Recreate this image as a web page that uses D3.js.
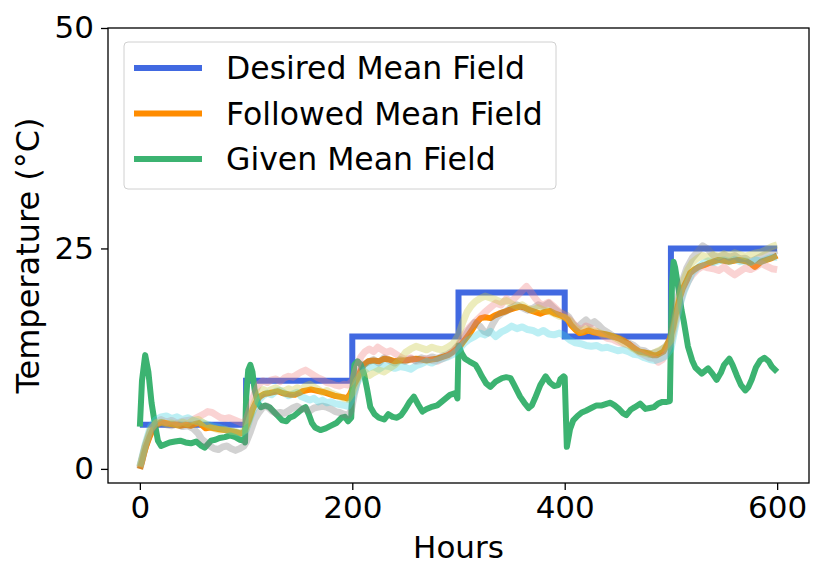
<!DOCTYPE html>
<html>
<head>
<meta charset="utf-8">
<script src="https://cdn.jsdelivr.net/npm/d3@7"></script>
<style>
    body { margin: 0; background: #fff; }
    svg { display: block; font-family: "DejaVu Sans", sans-serif; }
</style>
</head>
<body>
<div class="chart"></div>
<script>

const xTicks = [0, 200, 400, 600];
const yTicks = [0, 25, 50];

const seriesNames = ["Desired Mean Field", "Followed Mean Field", "Given Mean Field"];

// setpoint changes every 100 hours
const desiredHours = [0, 100, 200, 300, 400, 500, 600];
const desiredValues = [5, 10, 15, 20, 15, 25, 25];

const followed = [[0,0],[2,0.8],[4,1.8],[6,2.6],[9,3.6],[12,4.4],[16,5.0],[20,5.3],[24,5.2],[28,5.1],[33,5.0],[38,4.9],[43,5.0],[48,4.9],[52,5.1],[56,5.2],[59,4.9],[62,4.6],[66,4.7],[70,4.6],[75,4.5],[80,4.4],[85,4.3],[90,4.2],[95,4.0],[98,4.2],[100,4.7],[103,5.6],[106,6.7],[109,7.5],[113,8.2],[117,8.5],[122,8.6],[126,8.7],[130,8.8],[134,8.6],[138,8.5],[142,8.4],[146,8.4],[150,8.6],[153,8.8],[157,8.9],[161,9.0],[165,8.9],[169,8.8],[173,8.7],[178,8.5],[183,8.3],[188,8.2],[192,8.1],[195,8.0],[198,8.5],[201,9.4],[205,10.3],[208,11.2],[211,11.8],[215,12.2],[220,12.3],[225,12.2],[230,12.5],[235,12.4],[240,12.2],[245,12.3],[250,12.3],[255,12.4],[260,12.5],[265,12.4],[270,12.3],[275,12.4],[280,12.5],[285,12.7],[290,12.9],[294,13.2],[298,13.6],[302,14.0],[305,14.5],[309,15.1],[313,15.8],[317,16.6],[321,17.1],[325,17.2],[330,17.1],[334,17.4],[338,17.6],[343,17.8],[347,18.0],[352,18.2],[358,18.4],[362,18.3],[367,18.0],[372,17.8],[377,17.6],[381,17.8],[386,17.9],[391,17.6],[396,17.4],[400,17.2],[403,16.9],[406,16.3],[410,15.8],[414,15.4],[418,15.5],[422,15.7],[427,15.5],[432,15.4],[437,15.3],[441,15.2],[446,15.0],[451,14.8],[456,14.5],[460,14.2],[465,13.7],[470,13.3],[475,13.2],[479,13.1],[483,12.9],[487,12.9],[490,13.1],[493,13.3],[496,14.0],[499,14.8],[502,16.0],[505,17.8],[508,19.3],[511,20.4],[515,21.4],[518,22.2],[522,22.6],[526,22.9],[531,23.1],[535,23.3],[540,23.5],[545,23.7],[550,23.6],[554,23.5],[559,23.6],[563,23.7],[568,23.6],[572,23.5],[576,23.2],[579,22.9],[582,23.2],[585,23.5],[590,23.7],[595,23.9],[600,24.2]];

const given = [[0,4.8],[2,10],[5,12.9],[8,11],[11,7.5],[14,5.2],[17,3.2],[20,2.6],[24,2.8],[28,3.0],[33,3.1],[38,3.2],[43,3.0],[48,2.9],[53,3.1],[58,2.6],[61,2.4],[64,2.8],[67,3.2],[71,3.3],[75,3.5],[80,3.6],[85,3.8],[90,3.6],[94,3.3],[98,3.2],[99,3.0],[100,8],[102,11.2],[104,11.8],[106,11],[108,9],[111,7.5],[114,7.0],[118,7.2],[122,7.0],[126,6.5],[130,6.0],[134,5.5],[138,5.4],[141,5.8],[145,6.0],[149,6.4],[153,6.8],[156,7.0],[159,6.2],[162,5.2],[165,4.7],[170,4.4],[175,4.6],[180,4.9],[185,5.2],[190,5.8],[193,5.9],[196,5.4],[199,5.8],[200,9],[202,11.8],[205,12.2],[208,11.8],[211,10.8],[214,9.0],[217,7.0],[221,6.2],[225,5.8],[230,5.6],[234,6.2],[238,5.9],[242,5.8],[246,6.1],[250,6.8],[254,7.6],[258,8.2],[262,7.3],[266,6.5],[270,6.8],[274,7.0],[280,7.2],[286,7.8],[292,8.4],[297,8.6],[299,8.0],[300,14],[303,13.1],[306,12.5],[310,12.2],[316,11.8],[319,11.2],[322,10.5],[326,9.7],[330,9.3],[335,9.9],[341,10.3],[345,10.4],[349,10.3],[352,9.6],[355,8.9],[358,8.2],[362,7.5],[366,6.9],[369,7.2],[372,8.0],[377,9.5],[382,10.5],[386,9.8],[390,9.4],[394,9.5],[396,10.2],[399,10.5],[400,10.4],[402,2.5],[405,4.5],[408,5.5],[412,6.0],[416,6.4],[420,6.6],[425,6.9],[430,7.2],[435,7.2],[440,7.4],[443,7.5],[447,7.2],[451,6.8],[455,6.3],[458,6.1],[462,6.7],[466,7.0],[471,7.4],[476,6.8],[480,6.9],[484,7.0],[488,7.4],[492,7.6],[496,7.6],[499,7.7],[500,15],[501,21],[502.5,23.5],[504,22.8],[507,20.5],[510,18],[512,16.8],[516,13.9],[520,12.3],[523,11.5],[529,10.8],[535,11.4],[539,10.8],[543,10.1],[547,10.9],[550,11.8],[555,12.5],[558,11.8],[562,10.6],[566,9.5],[570,8.9],[573,9.3],[576,10.1],[580,11.5],[584,12.3],[588,12.6],[592,12.2],[595,11.6],[600,11.0]];

// individual zones, drawn faint
const zoneGray = [[0,0],[5,2.5],[10,4.3],[15,5],[20,5.2],[25,5],[30,4.9],[35,5.1],[40,4.8],[45,4.9],[50,4.6],[55,4.0],[58,3.4],[62,3.0],[66,2.6],[70,2.3],[74,2.2],[78,2.5],[82,2.6],[86,2.3],[90,2.1],[94,2.3],[98,2.6],[100,3.0],[104,4.2],[108,5.6],[112,6.4],[116,7.0],[120,7.1],[124,6.6],[128,6.3],[132,6.4],[136,6.3],[140,6.6],[144,6.9],[148,7.1],[152,6.8],[156,6.8],[160,6.6],[164,6.9],[168,7.0],[172,7.1],[176,7.0],[180,6.8],[184,6.5],[188,6.4],[192,6.2],[196,6.1],[199,6.6],[202,8.5],[206,10.6],[210,11.8],[215,12.1],[220,12.4],[225,12.0],[230,12.6],[235,12.3],[240,12.0],[245,12.4],[250,12.2],[255,12.5],[260,12.3],[265,12.6],[270,12.4],[275,12.7],[280,12.5],[285,12.8],[290,13.0],[295,13.4],[300,14.0],[305,14.8],[310,15.8],[315,16.6],[320,16.2],[324,15.6],[328,15.4],[332,16.4],[336,17.2],[340,17.6],[345,17.9],[350,18.3],[355,18.6],[360,18.3],[365,18.0],[370,18.2],[375,18.6],[380,18.4],[385,18.8],[390,18.2],[395,17.7],[400,17.6],[404,17.2],[408,16.4],[412,16.0],[416,16.5],[420,16.9],[424,16.4],[428,16.7],[432,16.3],[436,15.8],[440,15.5],[445,15.1],[450,14.9],[455,14.6],[460,14.3],[465,14.0],[470,13.5],[475,13.4],[480,13.0],[485,13.2],[490,13.4],[495,13.9],[499,14.5],[502,16.5],[506,19.2],[510,21.0],[515,22.8],[520,23.9],[525,24.6],[530,25.3],[535,24.9],[540,24.2],[545,24.0],[550,24.3],[555,24.0],[560,24.2],[565,23.8],[570,23.9],[575,23.5],[580,23.8],[585,24.1],[590,24.4],[595,24.6],[600,24.8]];

const zonePink = [[0,0.2],[5,2.6],[10,4.4],[15,5.2],[20,5.6],[25,5.3],[30,5.5],[35,5.2],[40,5.4],[45,5.5],[50,5.6],[55,5.9],[60,6.2],[64,6.5],[68,6.4],[72,6.1],[76,5.8],[80,5.7],[84,5.8],[88,5.6],[92,5.4],[96,5.2],[100,5.5],[104,7.0],[108,8.6],[112,9.6],[116,10.0],[120,9.8],[124,10.1],[128,10.2],[132,9.9],[136,10.3],[140,10.5],[144,10.4],[148,10.7],[152,11.0],[156,11.2],[160,10.9],[164,10.6],[168,10.3],[172,10.1],[176,9.8],[180,9.7],[184,9.5],[188,9.4],[192,9.6],[196,9.5],[200,10.0],[204,11.5],[208,12.7],[212,13.3],[216,13.6],[220,13.3],[224,13.8],[228,13.5],[232,13.2],[236,13.4],[240,13.1],[245,12.7],[250,12.4],[255,12.6],[260,12.2],[265,12.3],[270,12.5],[275,12.3],[280,12.2],[285,12.5],[290,12.8],[295,13.3],[300,14.1],[305,15.2],[310,16.0],[315,16.6],[320,17.2],[325,17.8],[330,18.3],[335,18.8],[340,18.6],[345,19.3],[350,19.0],[355,19.6],[360,20.2],[364,20.7],[368,20.1],[372,19.4],[376,18.8],[380,18.6],[385,18.9],[390,18.4],[395,17.8],[400,17.4],[404,17.0],[408,16.5],[412,16.0],[416,15.8],[420,16.2],[424,16.0],[428,15.7],[432,15.4],[436,15.1],[440,14.8],[445,14.7],[450,14.4],[455,14.2],[460,14.1],[465,13.7],[470,13.2],[475,12.9],[480,12.6],[485,12.5],[488,12.1],[492,12.4],[496,13.3],[500,14.3],[504,16.5],[508,18.6],[512,20.2],[516,21.2],[520,22.0],[525,22.6],[530,23.0],[535,22.8],[540,22.7],[545,22.5],[550,22.9],[555,22.4],[560,22.0],[565,22.4],[570,22.8],[575,22.6],[580,22.9],[585,23.3],[590,23.0],[595,22.7],[600,22.6]];

const zoneCyan = [[0,0.3],[5,2.8],[10,4.8],[15,5.6],[20,5.9],[25,6.0],[30,5.7],[35,5.9],[40,5.6],[45,5.8],[50,5.5],[55,5.3],[60,5.2],[65,5.0],[70,4.8],[75,4.7],[80,4.5],[85,4.3],[90,4.2],[95,4.0],[100,4.4],[104,5.8],[108,7.0],[112,7.8],[116,8.3],[120,8.6],[124,8.4],[128,8.8],[132,8.9],[136,8.6],[140,8.3],[144,8.5],[148,8.7],[152,8.2],[156,8.0],[160,7.8],[164,8.0],[168,7.6],[172,7.8],[176,7.5],[180,7.6],[184,7.4],[188,7.3],[192,7.2],[196,7.1],[200,8.0],[204,9.6],[208,10.6],[212,11.2],[216,11.5],[220,11.6],[225,11.3],[230,11.7],[235,11.6],[240,11.4],[245,11.6],[250,11.5],[255,11.3],[260,11.7],[265,11.9],[270,12.2],[275,12.0],[280,12.3],[285,12.5],[290,12.7],[295,13.0],[300,13.5],[305,14.2],[310,14.7],[315,15.0],[320,15.4],[325,15.2],[330,15.6],[335,15.0],[340,15.5],[345,15.8],[350,16.2],[355,15.9],[360,16.1],[365,15.8],[370,15.7],[375,15.4],[380,15.7],[385,15.3],[390,15.2],[395,15.4],[400,15.1],[405,14.6],[410,14.3],[415,14.2],[420,14.0],[425,13.9],[430,14.0],[435,13.7],[440,13.8],[445,13.6],[450,13.4],[455,13.5],[460,13.3],[465,13.0],[470,12.9],[475,12.6],[480,12.4],[485,12.3],[490,12.5],[495,12.8],[500,13.6],[504,16.0],[508,18.4],[512,20.0],[516,21.2],[520,22.2],[525,22.8],[530,23.3],[535,23.6],[540,23.4],[545,23.6],[550,23.7],[555,23.5],[560,23.8],[565,23.5],[570,23.6],[575,23.4],[580,23.7],[585,23.5],[590,23.8],[595,24.0],[600,24.0]];

const zoneYellow = [[0,0.2],[5,2.5],[10,4.5],[15,5.2],[20,5.3],[25,5.1],[30,5.2],[35,5.0],[40,5.3],[45,5.1],[50,5.5],[55,5.6],[60,5.2],[65,4.8],[70,4.6],[75,4.4],[80,4.5],[85,4.3],[90,4.2],[95,4.1],[100,4.5],[104,6.0],[108,7.6],[112,8.6],[116,9.0],[120,8.8],[124,9.0],[128,9.2],[132,8.9],[136,8.8],[140,9.1],[144,8.9],[148,9.2],[152,9.0],[156,9.4],[160,9.6],[164,9.3],[168,9.0],[172,8.7],[176,8.9],[180,8.6],[184,8.4],[188,8.2],[192,8.0],[196,7.9],[200,8.6],[204,10.0],[208,10.8],[212,11.0],[216,10.6],[220,10.9],[225,11.2],[230,11.0],[235,11.4],[240,11.8],[245,12.4],[250,13.2],[255,13.6],[260,13.9],[265,13.7],[270,13.5],[275,13.8],[280,13.6],[285,13.5],[290,13.8],[295,14.2],[300,15.2],[304,16.6],[308,17.8],[312,18.5],[316,19.0],[320,19.3],[325,19.6],[330,19.4],[335,19.2],[340,18.9],[345,19.1],[350,18.7],[355,18.4],[360,18.6],[365,18.2],[370,18.0],[375,18.3],[380,18.0],[385,17.9],[390,17.6],[395,17.3],[400,17.2],[405,16.8],[410,16.0],[415,15.6],[420,15.9],[425,15.7],[430,15.6],[435,15.3],[440,15.2],[445,15.0],[450,14.7],[455,14.3],[460,14.0],[465,13.6],[470,13.3],[475,13.1],[480,13.0],[485,13.2],[490,13.5],[495,13.8],[500,14.6],[504,17.0],[508,19.6],[512,21.4],[516,22.6],[520,23.4],[525,23.9],[530,24.2],[535,24.0],[540,24.3],[545,24.1],[550,24.4],[555,24.2],[560,24.5],[565,24.3],[570,24.1],[575,24.3],[580,24.5],[585,24.6],[590,24.9],[595,25.2],[600,25.4]];

function drawChart(){

    const width = 832;
    const height = 581;
    const plot = { left: 108, right: 809, top: 28, bottom: 483 };

    const svg = d3.select(".chart")
        .append("svg")
        .attr("width", width)
        .attr("height", height);

    svg.append("rect")
        .attr("width", width)
        .attr("height", height)
        .attr("fill", "#fff");

    const x = d3.scaleLinear()
        .domain([-30, 630])
        .range([plot.left, plot.right]);

    const y = d3.scaleLinear()
        .domain([-1.6, 50])
        .range([plot.bottom, plot.top]);

    const line = d3.line()
        .x(d => x(d[0]))
        .y(d => y(d[1]));

    svg.append("clipPath")
        .attr("id", "clip")
        .append("rect")
        .attr("x", plot.left)
        .attr("y", plot.top)
        .attr("width", plot.right - plot.left)
        .attr("height", plot.bottom - plot.top);

    const g = svg.append("g").attr("clip-path", "url(#clip)");

    const desired = desiredHours.map((h, i) => [h, desiredValues[i]]);

    g.append("path")
        .datum(desired)
        .attr("d", line.curve(d3.curveStepAfter))
        .attr("fill", "none")
        .attr("stroke", "#4169e1")
        .attr("stroke-width", 6);

    line.curve(d3.curveLinear);

    g.append("path")
        .datum(followed)
        .attr("d", line)
        .attr("fill", "none")
        .attr("stroke", "#ff8c00")
        .attr("stroke-width", 6)
        .attr("stroke-linejoin", "round");

    g.append("path")
        .datum(given)
        .attr("d", line)
        .attr("fill", "none")
        .attr("stroke", "#3cb371")
        .attr("stroke-width", 6)
        .attr("stroke-linejoin", "round");

    const zones = [
        { data: zoneGray, color: "#7f7f7f" },
        { data: zonePink, color: "#f08080" },
        { data: zoneCyan, color: "#40d0e0" },
        { data: zoneYellow, color: "#c8c840" }
    ];

    g.selectAll(".zone")
        .data(zones)
        .enter()
        .append("path")
        .attr("class", "zone")
        .attr("d", d => line(d.data))
        .attr("fill", "none")
        .attr("stroke", d => d.color)
        .attr("stroke-opacity", 0.35)
        .attr("stroke-width", 7)
        .attr("stroke-linejoin", "round");

    // axes
    const xAxis = svg.append("g")
        .attr("transform", `translate(0,${plot.bottom})`)
        .call(d3.axisBottom(x).tickValues(xTicks).tickSize(7).tickPadding(6).tickSizeOuter(0));

    const yAxis = svg.append("g")
        .attr("transform", `translate(${plot.left},0)`)
        .call(d3.axisLeft(y).tickValues(yTicks).tickSize(7).tickPadding(7).tickSizeOuter(0));

    [xAxis, yAxis].forEach(a => {
        a.select(".domain").remove();
        a.selectAll("line").attr("stroke", "#000").attr("stroke-width", 1.3);
        a.selectAll("text")
            .attr("fill", "#000")
            .style("font-size", "31px")
            .style("font-family", "DejaVu Sans");
    });

    svg.append("rect")
        .attr("x", plot.left)
        .attr("y", plot.top)
        .attr("width", plot.right - plot.left)
        .attr("height", plot.bottom - plot.top)
        .attr("fill", "none")
        .attr("stroke", "#000")
        .attr("stroke-width", 1.3);

    svg.append("text")
        .attr("x", (plot.left + plot.right) / 2)
        .attr("y", 558)
        .attr("text-anchor", "middle")
        .style("font-size", "31px")
        .text("Hours");

    svg.append("text")
        .attr("transform", `translate(39,${(plot.top + plot.bottom) / 2}) rotate(-90)`)
        .attr("text-anchor", "middle")
        .style("font-size", "32px")
        .text("Temperature (°C)");

    // legend
    const legend = svg.append("g");

    legend.append("rect")
        .attr("x", 124)
        .attr("y", 42)
        .attr("width", 432)
        .attr("height", 147)
        .attr("rx", 4)
        .attr("fill", "#fff")
        .attr("fill-opacity", 0.8)
        .attr("stroke", "#d0d0d0")
        .attr("stroke-width", 1);

    const legendColors = ["#4169e1", "#ff8c00", "#3cb371"];

    const rows = legend.selectAll(".row")
        .data(seriesNames)
        .enter()
        .append("g")
        .attr("transform", (d, i) => `translate(0,${68 + i * 45.5})`);

    rows.append("line")
        .attr("x1", 134)
        .attr("x2", 202)
        .attr("stroke", (d, i) => legendColors[i])
        .attr("stroke-width", 6);

    rows.append("text")
        .attr("x", 226)
        .attr("y", 11)
        .style("font-size", "31.5px")
        .text(d => d);
}

drawChart();
</script>
</body>
</html>
